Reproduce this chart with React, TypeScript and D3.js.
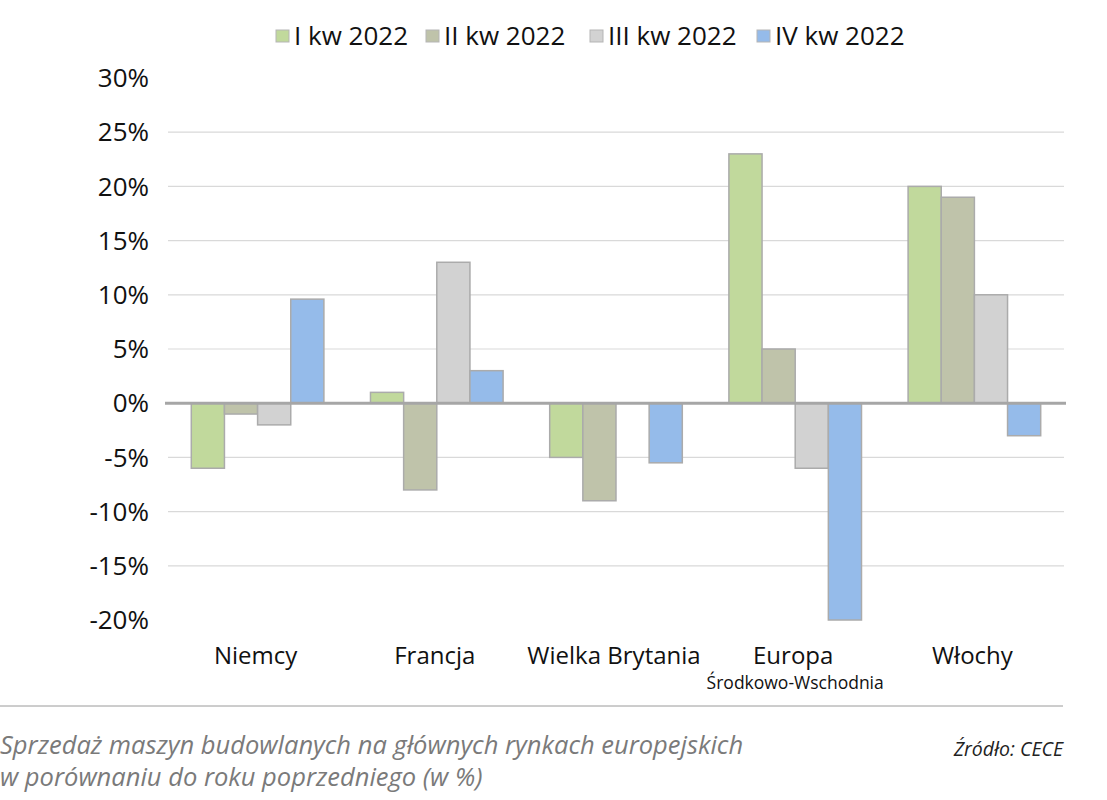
import React from "react";
import * as d3 from "d3";

const categories = ["Niemcy", "Francja", "Wielka Brytania", "Europa", "Włochy"];
const series = ["I kw 2022", "II kw 2022", "III kw 2022", "IV kw 2022"];
const q1 = [-6, 1, -5, 23, 20];
const q2 = [-1, -8, -9, 5, 19];
const q3 = [-2, 13, 0, -6, 10];
const q4 = [9.6, 3, -5.5, -20, -3];
const yTicks = [30, 25, 20, 15, 10, 5, 0, -5, -10, -15, -20];
const colors = ["#c1d99c", "#bfc3aa", "#d2d2d2", "#95bbea"];

const width = 1107;
const height = 800;
const font = "'Open Sans', 'Noto Sans', sans-serif";

const App: React.FC = () => {
  const values = [q1, q2, q3, q4];

  const x0 = d3
    .scaleBand<string>()
    .domain(categories)
    .range([168, 1064])
    .paddingInner(0.26)
    .paddingOuter(0.13);

  const x1 = d3
    .scaleBand<string>()
    .domain(series)
    .range([0, x0.bandwidth()]);

  const y = d3.scaleLinear().domain([-20, 30]).range([620, 78]);

  // legend square positions
  const legendX = [276, 426, 590, 757];

  return (
    <div style={{ position: "absolute", left: 0, top: 0 }}>
      <svg width={width} height={height} style={{ display: "block", background: "#fff" }}>
        {/* gridlines */}
        {yTicks
          .filter((t) => t !== 30 && t !== -20 && t !== 0)
          .map((t) => (
            <line
              key={t}
              x1={168}
              x2={1064}
              y1={y(t)}
              y2={y(t)}
              stroke="#d9d9d9"
              strokeWidth={1.2}
            />
          ))}

        {/* y labels */}
        {yTicks.map((t) => (
          <text
            key={t}
            x={149}
            y={y(t)}
            dy="0.35em"
            textAnchor="end"
            fontFamily={font}
            fontSize={26}
            fill="#111"
          >
            {t}%
          </text>
        ))}

        {/* bars */}
        {categories.map((c, ci) => (
          <g key={c} transform={`translate(${x0(c)},0)`}>
            {series.map((s, si) => {
              const v = values[si][ci];
              if (v === 0) return null;
              return (
                <rect
                  key={s}
                  x={x1(s)}
                  y={y(Math.max(0, v))}
                  width={x1.bandwidth()}
                  height={Math.abs(y(v) - y(0))}
                  fill={colors[si]}
                  stroke="#ababab"
                  strokeWidth={1.5}
                />
              );
            })}
          </g>
        ))}

        {/* zero line */}
        <line x1={165} x2={1066} y1={y(0)} y2={y(0)} stroke="#a6a6a6" strokeWidth={3} />

        {/* category labels */}
        {categories.map((c) => (
          <text
            key={c}
            x={(x0(c) as number) + x0.bandwidth() / 2 - 2}
            y={664}
            textAnchor="middle"
            fontFamily={font}
            fontSize={24}
            fill="#111"
          >
            {c}
          </text>
        ))}
        <text
          x={(x0("Europa") as number) + x0.bandwidth() / 2}
          y={689}
          textAnchor="middle"
          fontFamily={font}
          fontSize={17.5}
          fill="#111"
        >
          Środkowo-Wschodnia
        </text>

        {/* legend */}
        {series.map((s, i) => (
          <g key={s} transform={`translate(${legendX[i]},0)`}>
            <rect x={0} y={30} width={13} height={12} fill={colors[i]} stroke="#b5b5b5" strokeWidth={1} />
            <text x={18} y={45} fontFamily={font} fontSize={26} fill="#111">
              {s}
            </text>
          </g>
        ))}

        {/* divider and caption */}
        <line x1={0} x2={1063} y1={706} y2={706} stroke="#9a9a9a" strokeWidth={1} />
        <text x={0} y={754} fontFamily={font} fontStyle="italic" fontSize={25.5} fill="#7a7a7a">
          Sprzedaż maszyn budowlanych na głównych rynkach europejskich
        </text>
        <text x={0} y={786} fontFamily={font} fontStyle="italic" fontSize={25.5} fill="#7a7a7a">
          w porównaniu do roku poprzedniego (w %)
        </text>
        <text x={1063} y={756} textAnchor="end" fontFamily={font} fontStyle="italic" fontSize={19.5} fill="#222">
          Źródło: CECE
        </text>
      </svg>
    </div>
  );
};

export default App;
